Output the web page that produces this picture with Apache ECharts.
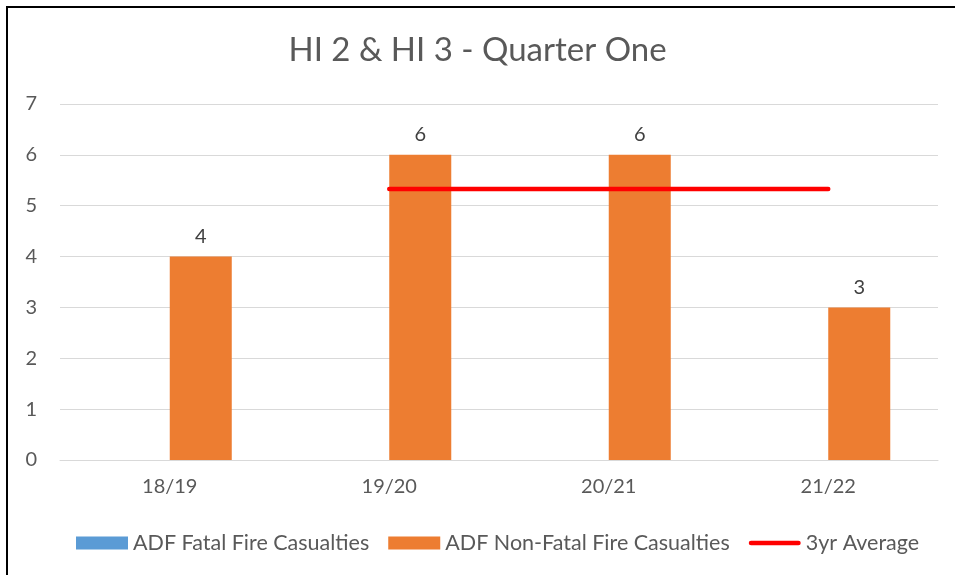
<!DOCTYPE html>
<html>
	<head>
		<meta charset="utf-8">
		<script src="https://cdn.jsdelivr.net/npm/echarts@6/dist/echarts.min.js"></script>
		<title>HI 2 & HI 3 - Quarter One</title>
		<style>
			html, body { margin: 0; padding: 0; background: #fff; }
			#frame { position: absolute; left: 6px; top: 6px; width: 949px; height: 569px;
				border-left: 2px solid #000; border-top: 2px solid #000; box-sizing: border-box; }
			#main { position: absolute; left: 0; top: 0; width: 955px; height: 575px; }
		</style>
	</head>
	<body>
		<div id="frame"></div>
		<div id="main"></div>
		<script type="text/javascript">
			// data
			var years = ['18/19', '19/20', '20/21', '21/22'];
			var fatal = [0, 0, 0, 0];
			var nonFatal = [4, 6, 6, 3];
			var avg3yr = [null, 5.33, 5.33, 5.33];

			var font = 'Lato, "Open Sans", sans-serif';
			var myChart = echarts.init(document.getElementById('main'));
			myChart.setOption({
				backgroundColor: 'transparent',
				animation: false,
				title: {
					text: 'HI 2 & HI 3 - Quarter One',
					left: 'center',
					top: 29,
					textStyle: { color: '#595959', fontSize: 33, fontWeight: 'normal', fontFamily: font }
				},
				grid: { left: 60, right: 17, top: 104, bottom: 115 },
				legend: {
					bottom: 16,
					left: 71,
					itemWidth: 52,
					itemHeight: 13,
					itemGap: 19,
					textStyle: { color: '#595959', fontSize: 21.5, fontFamily: font },
					data: [
						{ name: 'ADF Fatal Fire Casualties', icon: 'rect' },
						{ name: 'ADF Non-Fatal Fire Casualties', icon: 'rect' },
						{ name: '3yr Average', icon: 'path://M2.5,0 L53.5,0 A2.5,2.5 0 0 1 53.5,5 L2.5,5 A2.5,2.5 0 0 1 2.5,0 Z' }
					]
				},
				xAxis: {
					type: 'category',
					data: years,
					axisLine: { lineStyle: { color: '#d9d9d9', width: 1 } },
					axisTick: { show: false },
					axisLabel: { color: '#595959', fontSize: 20, fontFamily: font, margin: 17 }
				},
				yAxis: {
					type: 'value',
					min: 0,
					max: 7,
					interval: 1,
					axisLine: { show: false },
					axisTick: { show: false },
					splitLine: { lineStyle: { color: '#d9d9d9', width: 1 } },
					axisLabel: { color: '#595959', fontSize: 20, fontFamily: font, margin: 23 }
				},
				series: [
					{
						name: 'ADF Fatal Fire Casualties',
						type: 'bar',
						data: fatal,
						barGap: '0%',
						barCategoryGap: '43.5%',
						itemStyle: { color: '#5b9bd5' }
					},
					{
						name: 'ADF Non-Fatal Fire Casualties',
						type: 'bar',
						data: nonFatal,
						barGap: '0%',
						barCategoryGap: '43.5%',
						itemStyle: { color: '#ed7d31' },
						label: {
							show: true,
							position: 'top',
							distance: 10,
							color: '#404040',
							fontSize: 20,
							fontFamily: font
						}
					},
					{
						name: '3yr Average',
						type: 'line',
						data: avg3yr,
						symbol: 'none',
						connectNulls: false,
						z: 5,
						lineStyle: { color: '#ff0000', width: 4.5, cap: 'round' },
						itemStyle: { color: '#ff0000' }
					}
				]
			});
		</script>
	</body>
</html>
